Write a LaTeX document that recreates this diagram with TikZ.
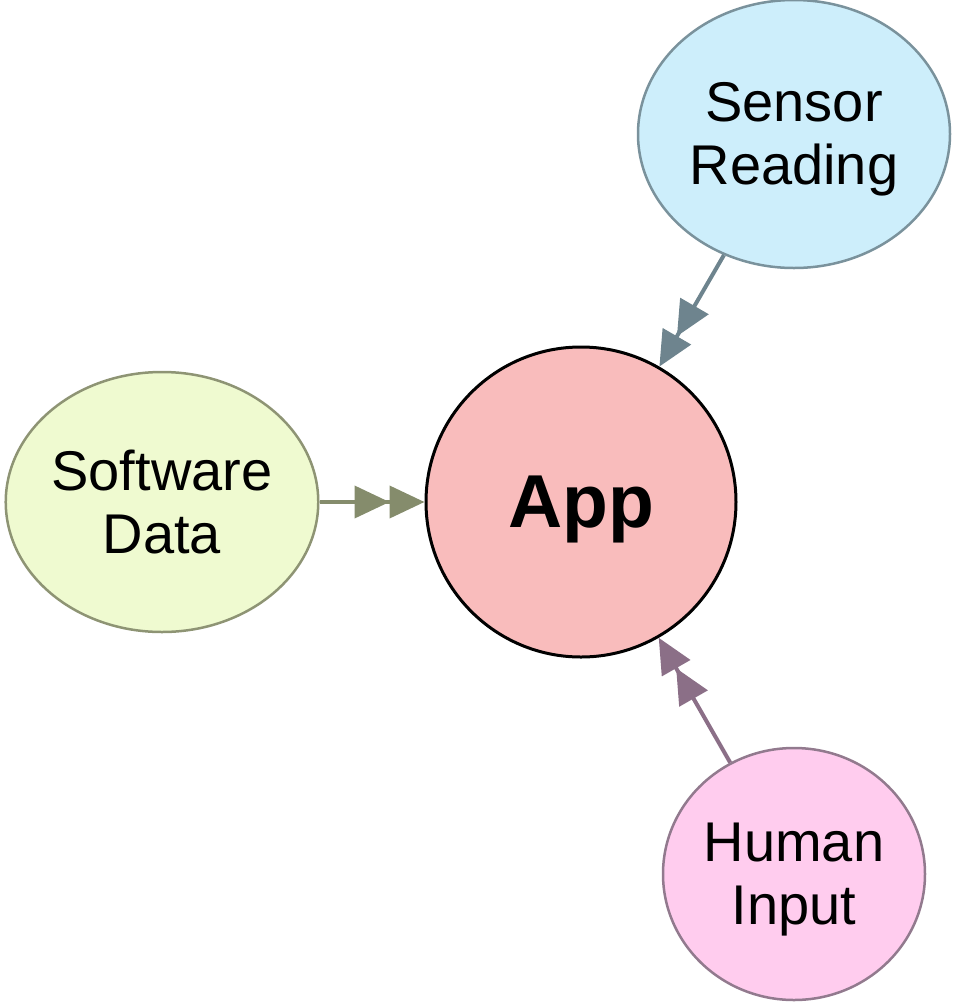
\documentclass[tikz,border=0pt]{standalone}
\usepackage{fontspec}
\setmainfont{Liberation Sans}
\usetikzlibrary{positioning,shapes.geometric,arrows.meta}

\definecolor{appfill}{HTML}{F9BCBC}
\definecolor{softfill}{HTML}{EFFAD0}
\definecolor{softline}{HTML}{8E9474}
\definecolor{sensfill}{HTML}{CDEEFB}
\definecolor{sensline}{HTML}{7A929C}
\definecolor{humfill}{HTML}{FFCCEE}
\definecolor{humline}{HTML}{927A8E}
\definecolor{softarr}{HTML}{858C6C}
\definecolor{sensarr}{HTML}{6E848E}
\definecolor{humarr}{HTML}{8B6F87}
\newcommand\gvs{\rule[-10pt]{0pt}{60pt}}

\begin{document}
\begin{tikzpicture}[x=1pt,y=-1pt,on grid,
    source/.style={ellipse,draw,line width=2.5pt,inner sep=0pt,align=center,
      font=\fontsize{56}{63}\selectfont},
    feed/.style={line width=4pt,
      -{Triangle[length=35pt,width=32pt]Triangle[length=35pt,width=32pt]}}]
    \useasboundingbox (0,0) rectangle (955,1005);
    \node[circle,draw,line width=3pt,fill=appfill,minimum size=310pt,inner sep=0pt,
      text depth=0pt,font=\fontsize{75}{80}\selectfont\bfseries] (app) at (581,502) {App};
    \node[source,fill=sensfill,draw=sensline,minimum width=312pt,minimum height=268pt]
      (sensor) [above right=368pt and 213pt of app] {\gvs Sensor\\\gvs Reading};
    \node[source,fill=softfill,draw=softline,minimum width=308pt,minimum height=260pt]
      (software) [left=419pt of app] {\gvs Software\\\gvs Data};
    \node[source,fill=humfill,draw=humline,minimum width=262pt,minimum height=252pt]
      (human) [below right=372pt and 213pt of app] {\gvs Human\\\gvs Input};
    \draw[feed,softarr] (software) -- (app);
    \draw[feed,sensarr] (sensor) -- (app);
    \draw[feed,humarr] (human) -- (app);
\end{tikzpicture}
\end{document}
